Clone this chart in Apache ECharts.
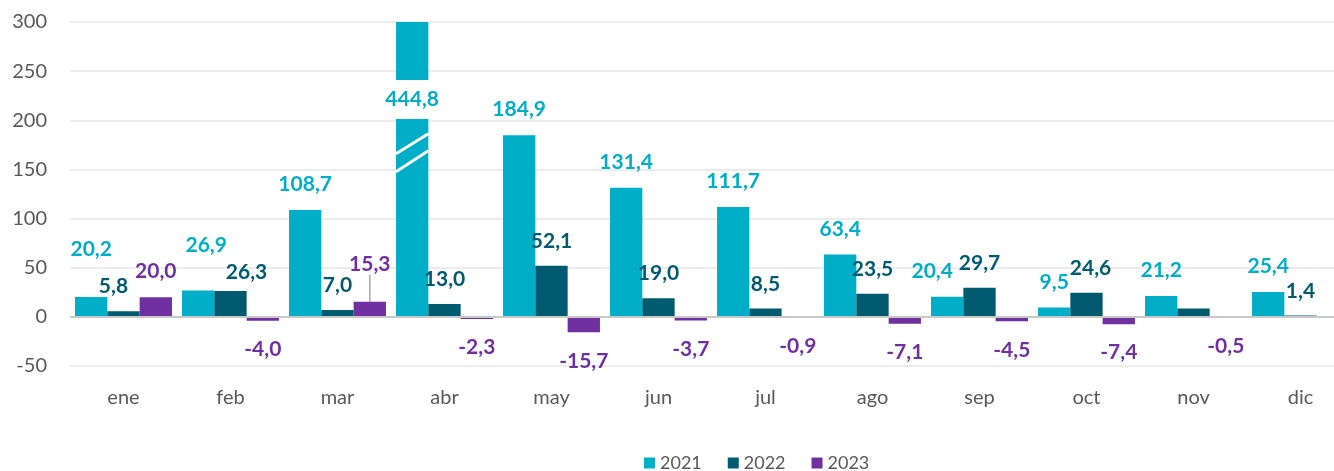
<!DOCTYPE html>
<html>
<head>
<meta charset="utf-8">
<script src="https://cdn.jsdelivr.net/npm/echarts@6/dist/echarts.min.js"></script>
<style>
  html, body { margin: 0; padding: 0; background: #ffffff; overflow: hidden; }
  #chart { width: 1334px; height: 471px; }
</style>
</head>
<body>
<div id="chart"></div>
<script>
// ---- data ----
const months = ['ene', 'feb', 'mar', 'abr', 'may', 'jun', 'jul', 'ago', 'sep', 'oct', 'nov', 'dic'];
const seriesNames = ['2021', '2022', '2023'];
const v2021 = [20.2, 26.9, 108.7, 444.8, 184.9, 131.4, 111.7, 63.4, 20.4, 9.5, 21.2, 25.4];
const v2022 = [5.8, 26.3, 7.0, 13.0, 52.1, 19.0, 8.5, 23.5, 29.7, 24.6, 8.6, 1.4];
const v2023 = [20.0, -4.0, 15.3, -2.3, -15.7, -3.7, -0.9, -7.1, -4.5, -7.4, -0.5, null];
const yMin = -50, yMax = 300, yStep = 50;
const hiddenLabels2022 = [10];   // nov 2022 has no label in the source
const brokenIndex = 3;           // abr 2021 bar exceeds axis (drawn with break)
const breakValue = 167;          // where the break marks sit on the broken bar

// ---- styling / label nudges (pixels) ----
const colors = ['#00AEC7', '#005A70', '#7030A0'];
const nudges = {
  '2021': { 0: [0, -22], 1: [8, -20], 8: [-15, 0] },
  '2022': { 0: [-10, 0], 1: [16, 6], 9: [4, 0] },
  '2023': { 2: [0, -12] }
};
const FONT = 'Lato, "Open Sans", sans-serif';
const fmt = v => (v == null ? '' : v.toFixed(1).replace('.', ','));
const catGap = 0.094;

function buildData(vals, name) {
  return vals.map((v, i) => {
    if (v == null) return null;
    const item = { value: v, label: {} };
    if (v < 0) { item.label.position = 'bottom'; item.label.distance = 18; }
    else { item.label.position = 'top'; item.label.distance = name === '2022' ? 14 : 15; }
    if (name === '2022' && hiddenLabels2022.includes(i)) item.label.show = false;
    if (name === '2021' && i === brokenIndex) {
      item.label = {
        position: 'insideTop', distance: 58,
        backgroundColor: '#ffffff', padding: [9, 4]
      };
    }
    if (name === '2023' && nudges['2023'][i] && v > 0) {
      item.labelLine = { show: true, lineStyle: { color: '#A6A6A6', width: 1.5 } };
    }
    return item;
  });
}

const chart = echarts.init(document.getElementById('chart'), null, { renderer: 'canvas' });

const barSeries = [v2021, v2022, v2023].map((vals, k) => ({
  name: seriesNames[k],
  type: 'bar',
  data: buildData(vals, seriesNames[k]),
  barGap: '0%',
  barCategoryGap: (catGap * 100) + '%',
  itemStyle: { color: colors[k] },
  label: {
    show: true,
    formatter: p => fmt(p.value),
    color: colors[k],
    fontFamily: FONT,
    fontWeight: 'bold',
    fontSize: 21
  },
  labelLayout: function (params) {
    const n = nudges[seriesNames[k]][params.dataIndex];
    return n ? { dx: n[0], dy: n[1] } : {};
  },
  labelLine: { show: false },
  z: 2
}));

// zero line drawn over the bars
barSeries[2].markLine = {
  silent: true,
  symbol: 'none',
  label: { show: false },
  lineStyle: { color: '#C9C9C9', width: 2, type: 'solid' },
  data: [{ yAxis: 0 }],
  z: 5
};

const breakSeries = {
  type: 'custom',
  name: 'break',
  z: 4,
  silent: true,
  data: [[months[brokenIndex], breakValue]],
  encode: { x: 0, y: 1 },
  renderItem: function (params, api) {
    const c = api.coord([api.value(0), api.value(1)]);
    const band = api.size([1, 0])[0];
    const bw = band * (1 - catGap) / 3;
    const x0 = c[0] - 1.5 * bw, x1 = c[0] - 0.5 * bw;
    const style = { stroke: '#ffffff', lineWidth: 3 };
    return {
      type: 'group',
      children: [
        { type: 'line', shape: { x1: x0, y1: c[1] + 1, x2: x1, y2: c[1] - 19 }, style: style },
        { type: 'line', shape: { x1: x0, y1: c[1] + 19, x2: x1, y2: c[1] - 2 }, style: style }
      ]
    };
  }
};

chart.setOption({
  animation: false,
  backgroundColor: '#ffffff',
  textStyle: { fontFamily: FONT },
  grid: { left: 70, width: 1284, top: 22, bottom: 105, containLabel: false, outerBoundsMode: 'none' },
  legend: {
    data: seriesNames,
    left: 639,
    top: 449,
    icon: 'rect',
    itemWidth: 11,
    itemHeight: 11,
    itemGap: 26,
    textStyle: { color: '#595959', fontSize: 18, fontFamily: FONT }
  },
  xAxis: {
    type: 'category',
    data: months,
    axisLine: { show: false, onZero: false },
    axisTick: { show: false },
    axisLabel: { color: '#595959', fontSize: 20, fontFamily: FONT, margin: 22 }
  },
  yAxis: {
    type: 'value',
    min: yMin, max: yMax, interval: yStep,
    axisLine: { show: false },
    axisTick: { show: false },
    axisLabel: { color: '#595959', fontSize: 20, fontFamily: FONT, margin: 23 },
    splitLine: { lineStyle: { color: '#ECECEC', width: 2 } }
  },
  series: barSeries.concat([breakSeries])
});
</script>
</body>
</html>
